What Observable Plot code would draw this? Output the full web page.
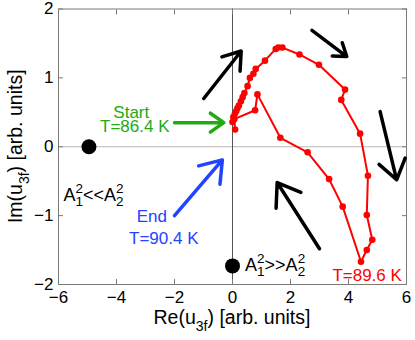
<!DOCTYPE html>
<html><head><meta charset="utf-8">
<script src="https://cdn.jsdelivr.net/npm/d3@7"></script>
<script src="https://cdn.jsdelivr.net/npm/@observablehq/plot@0.6"></script>
<style>
body{margin:0;background:#fff}
svg{font-family:"Liberation Sans",Arial,Helvetica,sans-serif}
</style>
</head><body><div id="chart"></div>
<script>
// Red trajectory of u_3f in the complex plane (T from 86.4 K to 90.4 K)
const reU = [0.00, 0.03, 0.08, 0.13, 0.17, 0.22, 0.29, 0.35, 0.41, 0.52, 0.60, 0.72, 0.80, 1.12, 1.49, 1.58, 1.72, 2.31, 2.98, 3.88, 3.75, 4.40, 4.67, 4.63, 4.82, 4.63, 4.43, 3.80, 3.33, 2.59, 1.65, 0.86, 0.78, 0.06, 0.09];
const imU = [0.36, 0.43, 0.48, 0.52, 0.56, 0.60, 0.66, 0.72, 0.78, 0.88, 1.00, 1.06, 1.13, 1.25, 1.42, 1.44, 1.44, 1.34, 1.19, 0.83, 0.68, 0.19, -0.42, -0.99, -1.35, -1.50, -1.67, -0.87, -0.47, -0.08, 0.13, 0.76, 0.53, 0.40, 0.25];

// Limit points (big black dots)
const limitRe = [-4.95, 0];
const limitIm = [0, -1.73];

// Black direction arrows
const dirX1 = [-0.99, 2.74, 5.09, 3.00];
const dirY1 = [0.70, 1.69, 0.51, -1.48];
const dirX2 = [0.30, 3.94, 5.66, 1.54];
const dirY2 = [1.39, 1.31, -0.48, -0.52];

// Start / End pointer arrows
const startArrow = [-2.0, 0.35, -0.3, 0.35];
const endArrow = [-2.0, -1.0, -0.35, -0.19];

// Text annotations
const startLabels = ["Start", "T=86.4 K"];
const startLabelX = [-3.49, -3.37];
const startLabelY = [0.49, 0.29];
const endLabels = ["End", "T=90.4 K"];
const endLabelX = [-2.78, -2.37];
const endLabelY = [-1.02, -1.33];
const peakLabel = "T=89.6 K";
const peakLabelX = 5.84, peakLabelY = -1.87;

// Axis ticks
const xTicks = [-6, -4, -2, 0, 2, 4, 6];
const yTicks = [-2, -1, 0, 1, 2];

const traj = reU.map((r, i) => ({re: r, im: imU[i]}));
const limits = limitRe.map((r, i) => ({re: r, im: limitIm[i]}));
const dirs = dirX1.map((x, i) => ({x1: x, y1: dirY1[i], x2: dirX2[i], y2: dirY2[i]}));

const fmt = d => d < 0 ? "\u2212" + Math.abs(d) : String(d);
const arrowStyle = {strokeWidth: 3.5, headLength: 11, headAngle: 70};

const plot = Plot.plot({
  width: 415, height: 340,
  marginLeft: 58, marginRight: 9, marginTop: 8.5, marginBottom: 56,
  x: {domain: [-6, 6]},
  y: {domain: [-2, 2]},
  style: {fontFamily: "'Liberation Sans', Arial, sans-serif", fontSize: "17px", color: "black", background: "white", overflow: "visible"},
  marks: [
    Plot.ruleY([0], {stroke: "#b8b8b8", strokeWidth: 1}),
    Plot.ruleX([0], {stroke: "#555", strokeWidth: 1}),
    Plot.frame({stroke: "#7a7a7a"}),
    Plot.axisX({ticks: xTicks, tickSize: -5, tickPadding: 11, tickFormat: fmt, label: null, stroke: "#7a7a7a"}),
    Plot.axisX({ticks: xTicks, anchor: "top", tickSize: -5, tickFormat: () => "", label: null, stroke: "#7a7a7a"}),
    Plot.axisY({ticks: yTicks, tickSize: -5, tickPadding: 10, tickFormat: fmt, label: null, stroke: "#7a7a7a"}),
    Plot.axisY({ticks: yTicks, anchor: "right", tickSize: -5, tickFormat: () => "", label: null, stroke: "#7a7a7a"}),
    Plot.line(traj, {x: "re", y: "im", stroke: "#ff0000", strokeWidth: 2, curve: "linear"}),
    Plot.dot(traj, {x: "re", y: "im", r: 3.3, fill: "#ff0000", stroke: "none"}),
    Plot.dot(limits, {x: "re", y: "im", r: 7.5, fill: "black", stroke: "none"}),
    Plot.arrow(dirs, {x1: "x1", y1: "y1", x2: "x2", y2: "y2", stroke: "black", ...arrowStyle}),
    Plot.arrow([startArrow], {x1: d => d[0], y1: d => d[1], x2: d => d[2], y2: d => d[3], stroke: "#22aa11", ...arrowStyle}),
    Plot.arrow([endArrow], {x1: d => d[0], y1: d => d[1], x2: d => d[2], y2: d => d[3], stroke: "#2244ff", ...arrowStyle}),
    Plot.text(startLabels, {x: (d, i) => startLabelX[i], y: (d, i) => startLabelY[i], text: d => d, fill: "#22aa11", fontSize: 17, textAnchor: "middle"}),
    Plot.text(endLabels, {x: (d, i) => endLabelX[i], y: (d, i) => endLabelY[i], text: d => d, fill: "#2244ff", fontSize: 17, textAnchor: "middle"}),
    Plot.text([peakLabel], {x: peakLabelX, y: peakLabelY, text: d => d, fill: "#ff0000", fontSize: 17, textAnchor: "end"})
  ]
});

document.getElementById("chart").appendChild(plot);

// Annotations with sub/superscripts placed through the plot's scales
const sx = plot.scale("x"), sy = plot.scale("y");
const svg = d3.select(plot);

function ampLabel(x, y, rel) {
  const t = svg.append("text")
    .attr("x", sx.apply(x)).attr("y", sy.apply(y))
    .attr("text-anchor", "start")
    .attr("font-size", 18).attr("fill", "black");
  t.append("tspan").text("A");
  t.append("tspan").attr("font-size", 13.5).attr("dy", -7.5).text("2");
  t.append("tspan").attr("font-size", 13.5).attr("dx", -7.5).attr("dy", 13).text("1");
  t.append("tspan").attr("dy", -5.5).text(rel + "A");
  t.append("tspan").attr("font-size", 13.5).attr("dy", -7.5).text("2");
  t.append("tspan").attr("font-size", 13.5).attr("dx", -7.5).attr("dy", 13).text("2");
}
ampLabel(-5.81, -0.79, "<<");
ampLabel(0.45, -1.81, ">>");

// Axis labels
const xl = svg.append("text").attr("x", (sx.range[0] + sx.range[1]) / 2).attr("y", 324)
  .attr("text-anchor", "middle").attr("font-size", 19.5).attr("fill", "black");
xl.append("tspan").text("Re(u");
xl.append("tspan").attr("font-size", 14).attr("dy", 7).text("3f");
xl.append("tspan").attr("dy", -7).text(") [arb. units]");

const yl = svg.append("text").attr("transform", `translate(22,${(sy.range[0] + sy.range[1]) / 2}) rotate(-90)`)
  .attr("text-anchor", "middle").attr("font-size", 19.5).attr("fill", "black");
yl.append("tspan").text("Im(u");
yl.append("tspan").attr("font-size", 14).attr("dy", 7).text("3f");
yl.append("tspan").attr("dy", -7).text(") [arb. units]");
</script></body></html>
